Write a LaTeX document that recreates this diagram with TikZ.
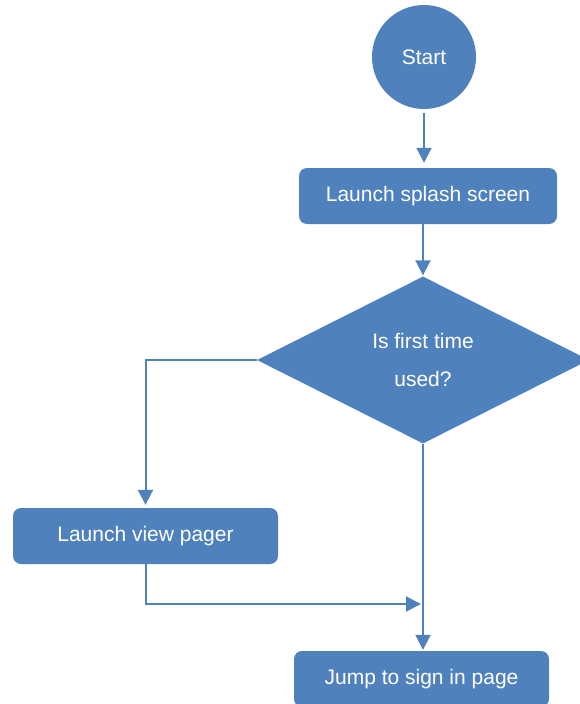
\documentclass[tikz,border=0pt]{standalone}
\usepackage{fontspec}
\setmainfont{Liberation Sans}
\usetikzlibrary{shapes.geometric,arrows.meta,positioning}
\definecolor{flowblue}{HTML}{4F81BD}

\begin{document}
\begin{tikzpicture}[
    x=1pt, y=-1pt,
    every node/.style={text=white, font=\fontsize{21}{38}\selectfont},
    startnode/.style={circle, fill=flowblue, minimum size=104pt, inner sep=0pt},
    procbox/.style={rectangle, rounded corners=8pt, fill=flowblue, minimum height=56pt, inner sep=0pt},
    decnode/.style={diamond, fill=flowblue, minimum width=332pt, minimum height=167pt, inner sep=0pt, align=center},
    flowline/.style={draw=flowblue, line width=2pt, -{Triangle[length=15pt,width=15pt]}}
]
\useasboundingbox (0,0) rectangle (580,704);

\node[startnode] (start) at (424,57) {Start};
\node[procbox, minimum width=258pt] (splash) at (428,196) {Launch splash screen};
\node[decnode] (first) at (423,360) {Is first time\\used?};
\node[procbox, minimum width=265pt] (pager) at (145.5,536) {Launch view pager};
\node[procbox, minimum width=255pt] (signin) at (421.5,679) {Jump to sign in page};
\coordinate (join) at (422,604);

\draw[flowline, shorten <=4pt, shorten >=5pt] (start.south) -- (start.south |- splash.north);
\draw[flowline, shorten >=1pt] (splash.south -| first.north) -- (first.north);
\draw[flowline, shorten >=3pt] (first.west) -| (pager.north);
\draw[flowline, shorten >=1pt] (pager.south) |- (join);
\draw[flowline, shorten >=1pt] (first.south) -- (first.south |- signin.north);
\end{tikzpicture}
\end{document}
